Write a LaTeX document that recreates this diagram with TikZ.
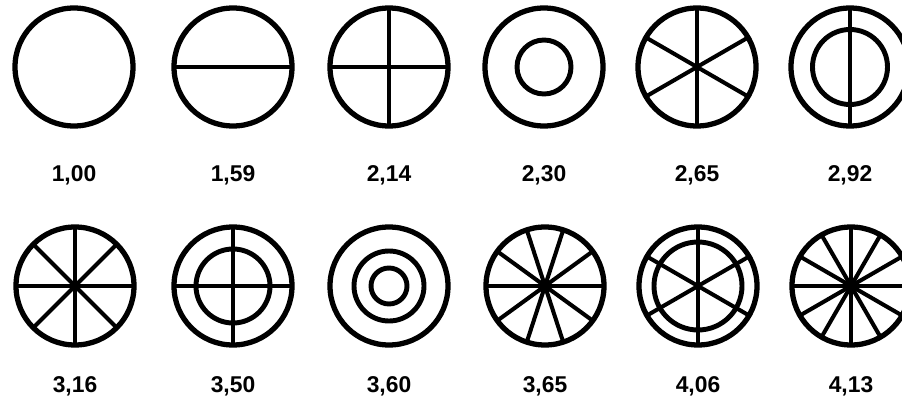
\documentclass[tikz,border=0pt]{standalone}
\usepackage{fontspec}
\setmainfont{Liberation Sans}
\usetikzlibrary{positioning}

\begin{document}
\begin{tikzpicture}[
  ring/.style  = {draw, circle, line width=3pt, inner sep=0pt,
                  outer sep=0pt, minimum size=2.36cm},
  inner/.style = {draw, circle, line width=2.8pt, inner sep=0pt,
                  outer sep=0pt},
  spoke/.style = {line width=2.3pt},
  val/.style   = {font=\bfseries\fontsize{13}{15}\selectfont, inner sep=0pt,
                  anchor=base}
]
  \useasboundingbox (0,0) rectangle (18.04,7.96);

  % outer rings and their values
  \foreach \i/\x/\y/\ly/\v in {1/1.48/6.62/4.34/{1,00}, 2/4.66/6.62/4.34/{1,59},
                               3/7.78/6.62/4.34/{2,14}, 4/10.88/6.62/4.34/{2,30},
                               5/13.94/6.62/4.34/{2,65}, 6/17.00/6.62/4.34/{2,92},
                               7/1.50/2.24/0.12/{3,16}, 8/4.66/2.24/0.12/{3,50},
                               9/7.78/2.24/0.12/{3,60}, 10/10.90/2.24/0.12/{3,65},
                               11/13.96/2.24/0.12/{4,06}, 12/17.02/2.24/0.12/{4,13}}{
    \node[ring] (c\i) at (\x,\y) {};
    \node[val] (v\i) at (\x,\ly) {\v};
  }

  % inner rings
  \node[inner, minimum size=1.08cm] (i4) at (c4) {};
  \node[inner, minimum size=1.50cm] (i6) at (c6) {};
  \node[inner, minimum size=1.48cm] (i8) at (c8) {};
  \node[inner, minimum size=1.40cm] (i9) at (c9) {};
  \node[inner, minimum size=0.72cm] (j9) at (c9) {};
  \node[inner, minimum size=1.76cm] (i11) at (c11) {};

  % diameters
  \foreach \c/\angs in {2/{0}, 3/{0,90}, 5/{30,90,150}, 6/{90},
                        7/{0,45,90,135}, 8/{0,90}, 10/{0,36,72,108,144},
                        11/{30,90,150}, 12/{0,30,60,90,120,150}}{
    \foreach \a in \angs {
      \pgfmathtruncatemacro\b{\a+180}
      \draw[spoke] (c\c.\a) -- (c\c.\b);
    }
  }
\end{tikzpicture}
\end{document}
